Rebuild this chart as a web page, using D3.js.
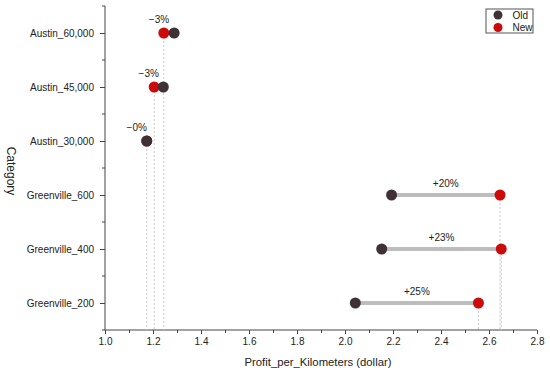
<!DOCTYPE html>
<html>
<head>
<meta charset="utf-8">
<script src="https://cdn.jsdelivr.net/npm/d3@7"></script>
<style>
  body { margin: 0; background: #fff; }
  text { font-family: "Liberation Sans", Arial, sans-serif; fill: #222; }
</style>
</head>
<body>
<svg width="550" height="371"></svg>
<script>
// data
let categories = ["Austin_60,000", "Austin_45,000", "Austin_30,000", "Greenville_600", "Greenville_400", "Greenville_200"];
let oldValues = [1.288, 1.243, 1.174, 2.194, 2.153, 2.043];
let newValues = [1.245, 1.205, 1.174, 2.646, 2.651, 2.556];
let changeLabels = ["\u22123%", "\u22123%", "\u22120%", "+20%", "+23%", "+25%"];
let xTicks = [1.0, 1.2, 1.4, 1.6, 1.8, 2.0, 2.2, 2.4, 2.6, 2.8];

let oldColor = "#3e3237",
    newColor = "#cc0a0a";

let svg = d3.select("svg"),
    plotLeft = 105, plotRight = 537, plotTop = 6, plotBottom = 330;

let x = d3.scaleLinear().domain([1.0, 2.8]).range([plotLeft, plotRight]);
let y = d3.scalePoint().domain(categories).range([plotTop, plotBottom]).padding(0.5);

let g = svg.append("g");

// x axis, major + minor ticks
let xAxis = g.append("g")
    .attr("transform", "translate(0," + plotBottom + ")")
    .call(d3.axisBottom(x).tickValues(xTicks).tickFormat(d3.format(".1f")).tickSize(4).tickPadding(4));
g.append("g")
    .attr("transform", "translate(0," + plotBottom + ")")
    .call(d3.axisBottom(x).tickValues(d3.range(1.1, 2.8, 0.2)).tickFormat("").tickSize(3))
    .select(".domain").remove();

// y axis: major at categories, minor at boundaries
let yAxis = g.append("g")
    .attr("transform", "translate(" + plotLeft + ",0)")
    .call(d3.axisLeft(y).tickSize(5).tickPadding(6).tickSizeOuter(0));
let step = y.step();
let minorY = d3.range(categories.length + 1).map(function (i) { return plotTop + i * step; });
g.append("g").selectAll("line")
    .data(minorY)
    .enter().append("line")
    .attr("x1", plotLeft - 3).attr("x2", plotLeft)
    .attr("y1", function (d) { return d; }).attr("y2", function (d) { return d; })
    .attr("stroke", "#444");

g.selectAll(".domain, .tick line").attr("stroke", "#444");
g.selectAll(".tick text").style("font-size", "10px").attr("fill", "#222");
xAxis.select(".domain").attr("d", "M" + plotLeft + ",0H" + plotRight);
yAxis.select(".domain").attr("d", "M0," + plotTop + "V" + plotBottom);

// dotted guide lines from the new value down to the axis
g.append("g").selectAll("line")
    .data(categories)
    .enter().append("line")
    .attr("x1", function (d, i) { return x(newValues[i]); })
    .attr("x2", function (d, i) { return x(newValues[i]); })
    .attr("y1", function (d) { return y(d); })
    .attr("y2", plotBottom)
    .attr("stroke", "#c8c8c8")
    .attr("stroke-width", 1)
    .attr("stroke-dasharray", "2,2");

// connecting bars
g.append("g").selectAll("line")
    .data(categories)
    .enter().append("line")
    .attr("x1", function (d, i) { return x(oldValues[i]); })
    .attr("x2", function (d, i) { return x(newValues[i]); })
    .attr("y1", function (d) { return y(d); })
    .attr("y2", function (d) { return y(d); })
    .attr("stroke", "#bdbdbd")
    .attr("stroke-width", 4);

// points: new first, old on top where they overlap
g.append("g").selectAll("circle")
    .data(categories)
    .enter().append("circle")
    .attr("cx", function (d, i) { return x(newValues[i]); })
    .attr("cy", function (d) { return y(d); })
    .attr("r", 5.5)
    .attr("fill", newColor);
g.append("g").selectAll("circle")
    .data(categories)
    .enter().append("circle")
    .attr("cx", function (d, i) { return x(oldValues[i]); })
    .attr("cy", function (d) { return y(d); })
    .attr("r", 5.5)
    .attr("fill", oldColor);

// change labels
g.append("g").selectAll("text")
    .data(categories)
    .enter().append("text")
    .attr("x", function (d, i) {
        let mid = (x(oldValues[i]) + x(newValues[i])) / 2;
        return newValues[i] <= oldValues[i] ? mid - 10 : mid;
    })
    .attr("y", function (d, i) { return y(d) - (newValues[i] <= oldValues[i] ? 10 : 8); })
    .attr("text-anchor", "middle")
    .style("font-size", "10px")
    .text(function (d, i) { return changeLabels[i]; });

// axis titles
svg.append("text")
    .attr("x", 318)
    .attr("y", 366)
    .attr("text-anchor", "middle")
    .style("font-size", "11.3px")
    .text("Profit_per_Kilometers (dollar)");
svg.append("text")
    .attr("transform", "translate(7,171) rotate(90)")
    .attr("text-anchor", "middle")
    .style("font-size", "12px")
    .text("Category");

// legend
let legend = svg.append("g").attr("transform", "translate(486,9)");
legend.append("rect")
    .attr("width", 47).attr("height", 24)
    .attr("fill", "#fff").attr("stroke", "#555");
let legendItems = [["Old", oldColor], ["New", newColor]];
legendItems.forEach(function (item, i) {
    legend.append("circle").attr("cx", 12).attr("cy", 6 + i * 12.5).attr("r", 4.5).attr("fill", item[1]);
    legend.append("text").attr("x", 26.5).attr("y", 9.5 + i * 12.5).style("font-size", "10px").text(item[0]);
});
</script>
</body>
</html>
